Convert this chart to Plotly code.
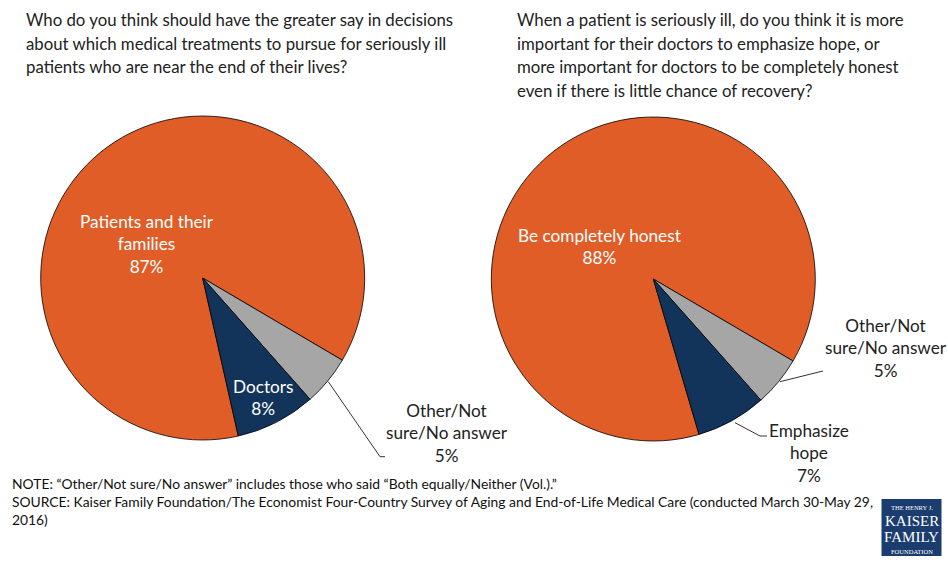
import plotly.graph_objects as go

W, H = 948, 562

# ---- data ----
left_labels = ["Patients and their families", "Other/Not sure/No answer", "Doctors"]
left_values = [87, 5, 8]
right_labels = ["Be completely honest", "Other/Not sure/No answer", "Emphasize hope"]
right_values = [88, 5, 7]

left_title_lines = ["Who do you think should have the greater say in decisions",
                    "about which medical treatments to pursue for seriously ill",
                    "patients who are near the end of their lives?"]
right_title_lines = ["When a patient is seriously ill, do you think it is more",
                     "important for their doctors to emphasize hope, or",
                     "more important for doctors to be completely honest",
                     "even if there is little chance of recovery?"]
note_text = ("NOTE: \u201cOther/Not sure/No answer\u201d includes those who said \u201cBoth equally/Neither (Vol.).\u201d<br>"
             "SOURCE: Kaiser Family Foundation/The Economist Four-Country Survey of Aging and End-of-Life Medical Care (conducted March 30-May 29,<br>"
             "2016)")

ORANGE = "#E05D27"
NAVY = "#12345A"
GRAY = "#A6A6A6"
colors = [ORANGE, GRAY, NAVY]
FONT = "Lato"


def px(x):
    return x / W


def py(y):
    return 1 - y / H


fig = go.Figure()
fig.add_trace(go.Pie(
    labels=left_labels, values=left_values, sort=False, direction="clockwise",
    rotation=167.3, marker=dict(colors=colors, line=dict(color="#000000", width=0.8)),
    textinfo="none", hoverinfo="label+percent", showlegend=False,
    domain=dict(x=[px(40.7), px(364.7)], y=[py(440), py(116)])))
fig.add_trace(go.Pie(
    labels=right_labels, values=right_values, sort=False, direction="clockwise",
    rotation=163.6, marker=dict(colors=colors, line=dict(color="#000000", width=0.8)),
    textinfo="none", hoverinfo="label+percent", showlegend=False,
    domain=dict(x=[px(491.3), px(815.3)], y=[py(441), py(117)])))

ann = []


def add_text(x, y, text, size=17.2, color="#222222", align="center", xanchor="center", yanchor="middle", family=FONT):
    ann.append(dict(x=px(x), y=py(y), xref="paper", yref="paper", text=text, showarrow=False,
                    font=dict(family=family, size=size, color=color), align=align,
                    xanchor=xanchor, yanchor=yanchor))


# titles (one annotation per line to match the line spacing)
for i, line in enumerate(left_title_lines):
    add_text(24, 20 + 23.4 * i, line, size=16.8, align="left", xanchor="left")
for i, line in enumerate(right_title_lines):
    add_text(515, 20 + 23.4 * i, line, size=16.8, align="left", xanchor="left")

# slice labels
add_text(147.3, 244, "Patients and their<br>families<br>%d%%" % left_values[0], color="#FFFFFF")
add_text(263, 397, "Doctors<br>%d%%" % left_values[2], color="#FFFFFF")
add_text(447, 433, "Other/Not<br>sure/No answer<br>%d%%" % left_values[1])
add_text(599, 246, "%s<br>%d%%" % (right_labels[0], right_values[0]), color="#FFFFFF")
add_text(885.5, 348, "Other/Not<br>sure/No answer<br>%d%%" % right_values[1])
add_text(808.5, 453, "Emphasize<br>hope<br>%d%%" % right_values[2])

# footnote
add_text(10, 473, note_text, size=13.85, align="left", xanchor="left", yanchor="top", color="#111111")

# logo
add_text(911.5, 507, "THE HENRY J.", size=6.5, color="#FFFFFF", family="Liberation Serif")
add_text(911.5, 521, "KAISER", size=15, color="#FFFFFF", family="Liberation Serif")
add_text(911.5, 537, "FAMILY", size=15, color="#FFFFFF", family="Liberation Serif")
add_text(911.5, 551, "FOUNDATION", size=6.5, color="#FFFFFF", family="Liberation Serif")

shapes = [
    dict(type="rect", xref="paper", yref="paper", x0=px(881.5), x1=px(941.5), y0=py(556), y1=py(499),
         fillcolor="#1B3C6E", line=dict(width=0), layer="below"),
    dict(type="path", xref="paper", yref="paper",
         path="M %f %f L %f %f L %f %f" % (px(328.3), py(381.7), px(380), py(456.7), px(385), py(456.7)),
         line=dict(color="#333333", width=1)),
    dict(type="path", xref="paper", yref="paper",
         path="M %f %f L %f %f" % (px(780), py(381.7), px(823), py(371)),
         line=dict(color="#333333", width=1)),
    dict(type="path", xref="paper", yref="paper",
         path="M %f %f L %f %f L %f %f" % (px(735), py(422.7), px(760), py(436), px(767), py(436)),
         line=dict(color="#333333", width=1)),
]

fig.update_layout(width=W, height=H, margin=dict(l=0, r=0, t=0, b=0),
                  paper_bgcolor="#FFFFFF", plot_bgcolor="#FFFFFF",
                  annotations=ann, shapes=shapes, showlegend=False)

fig.write_html("out.html", config={"displayModeBar": False},
               post_script="document.body.style.margin='0';document.body.style.overflow='hidden';")
